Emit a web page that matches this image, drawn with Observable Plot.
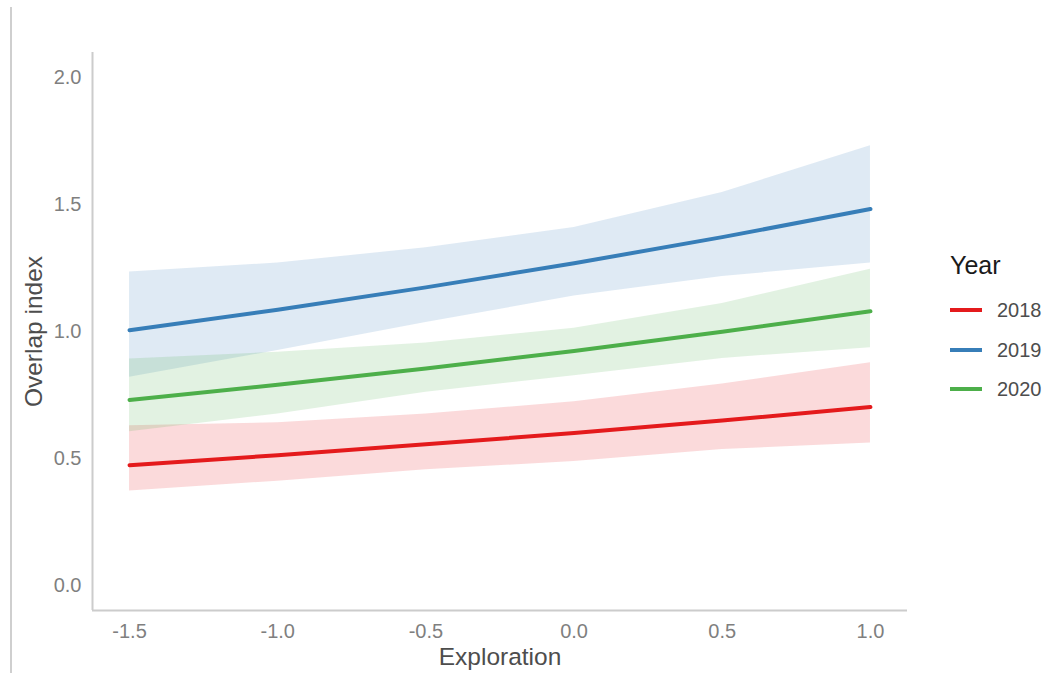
<!DOCTYPE html>
<html>
<head>
<meta charset="utf-8">
<script src="https://cdn.jsdelivr.net/npm/d3@7"></script>
<script src="https://cdn.jsdelivr.net/npm/@observablehq/plot@0.6"></script>
<style>
  body { margin: 0; background: #fff; font-family: "Liberation Sans", Arial, sans-serif; }
  #wrap { position: relative; width: 1064px; height: 673px; overflow: hidden; }
  #vline { position: absolute; left: 10px; top: 7px; width: 0; height: 670px; border-left: 2px solid #cfcfcf; }
  #legend { position: absolute; left: 950px; top: 250px; color: #4d4d4d; }
  #legend .title { font-size: 25px; color: #1a1a1a; height: 30px; line-height: 30px; margin-bottom: 16px; }
  #legend .item { position: relative; height: 39.5px; }
  #legend .sw { position: absolute; left: 0; top: 12px; width: 32px; height: 4px; }
  #legend .lab { position: absolute; left: 47px; top: 0; font-size: 20px; line-height: 28px; }
</style>
</head>
<body>
<div id="wrap">
  <div id="chart"></div>
  <div id="vline"></div>
  <div id="legend"></div>
</div>
<script>
const xs = [-1.5, -1.0, -0.5, 0.0, 0.5, 1.0];
const years = ["2018", "2019", "2020"];
const colors = ["#E41A1C", "#377EB8", "#4DAF4A"];

const fit2018 = [0.473, 0.512, 0.555, 0.600, 0.649, 0.702];
const lower2018 = [0.371, 0.410, 0.455, 0.487, 0.535, 0.560];
const upper2018 = [0.628, 0.640, 0.675, 0.723, 0.793, 0.877];

const fit2019 = [1.005, 1.086, 1.174, 1.269, 1.372, 1.483];
const lower2019 = [0.820, 0.925, 1.035, 1.140, 1.217, 1.270];
const upper2019 = [1.235, 1.270, 1.330, 1.410, 1.548, 1.732];

const fit2020 = [0.730, 0.790, 0.854, 0.923, 0.999, 1.080];
const lower2020 = [0.605, 0.675, 0.760, 0.826, 0.894, 0.936];
const upper2020 = [0.892, 0.918, 0.955, 1.013, 1.110, 1.245];

const xTicks = [-1.5, -1.0, -0.5, 0.0, 0.5, 1.0];
const yTicks = [0.0, 0.5, 1.0, 1.5, 2.0];

const series = {
  "2018": [fit2018, lower2018, upper2018],
  "2019": [fit2019, lower2019, upper2019],
  "2020": [fit2020, lower2020, upper2020]
};
const rows = [];
for (const yr of years) {
  const [f, lo, hi] = series[yr];
  xs.forEach((x, i) => rows.push({year: yr, x, fit: f[i], lower: lo[i], upper: hi[i]}));
}

const xDomain = [-1.625, 1.125];
const yDomain = [-0.1, 2.1];
const axisColor = "#cccccc";

const chart = Plot.plot({
  width: 1064,
  height: 673,
  marginLeft: 92,
  marginRight: 157,
  marginTop: 52,
  marginBottom: 63,
  style: { fontFamily: "Liberation Sans, Arial, sans-serif", background: "#fff" },
  x: { domain: xDomain },
  y: { domain: yDomain },
  color: { domain: years, range: colors },
  marks: [
    Plot.areaY(rows, { x: "x", y1: "lower", y2: "upper", fill: "year", fillOpacity: 0.16, curve: "linear" }),
    Plot.lineY(rows, { x: "x", y: "fit", stroke: "year", strokeWidth: 4, curve: "linear" }),
    Plot.ruleX([xDomain[0]], { stroke: axisColor, strokeWidth: 2 }),
    Plot.ruleY([yDomain[0]], { stroke: axisColor, strokeWidth: 2 }),
    Plot.axisX(xTicks, { tickSize: 0, tickPadding: 13, tickFormat: d => d.toFixed(1), fontSize: 20, fill: "#7f7f7f", label: null }),
    Plot.axisY(yTicks, { tickSize: 0, tickPadding: 11, tickFormat: d => d.toFixed(1), fontSize: 20, fill: "#7f7f7f", label: null }),
    Plot.text(["Exploration"], { frameAnchor: "bottom", dy: 54, fontSize: 24.5, fill: "#4d4d4d" }),
    Plot.text(["Overlap index"], { frameAnchor: "left", dx: -58, rotate: -90, textAnchor: "middle", lineAnchor: "middle", fontSize: 24.5, fill: "#4d4d4d" })
  ]
});
document.getElementById("chart").appendChild(chart);

const legend = document.getElementById("legend");
const t = document.createElement("div");
t.className = "title";
t.textContent = "Year";
legend.appendChild(t);
years.forEach((yr, i) => {
  const it = document.createElement("div");
  it.className = "item";
  const sw = document.createElement("div");
  sw.className = "sw";
  sw.style.background = colors[i];
  const lb = document.createElement("div");
  lb.className = "lab";
  lb.textContent = yr;
  it.appendChild(sw);
  it.appendChild(lb);
  legend.appendChild(it);
});
</script>
</body>
</html>
